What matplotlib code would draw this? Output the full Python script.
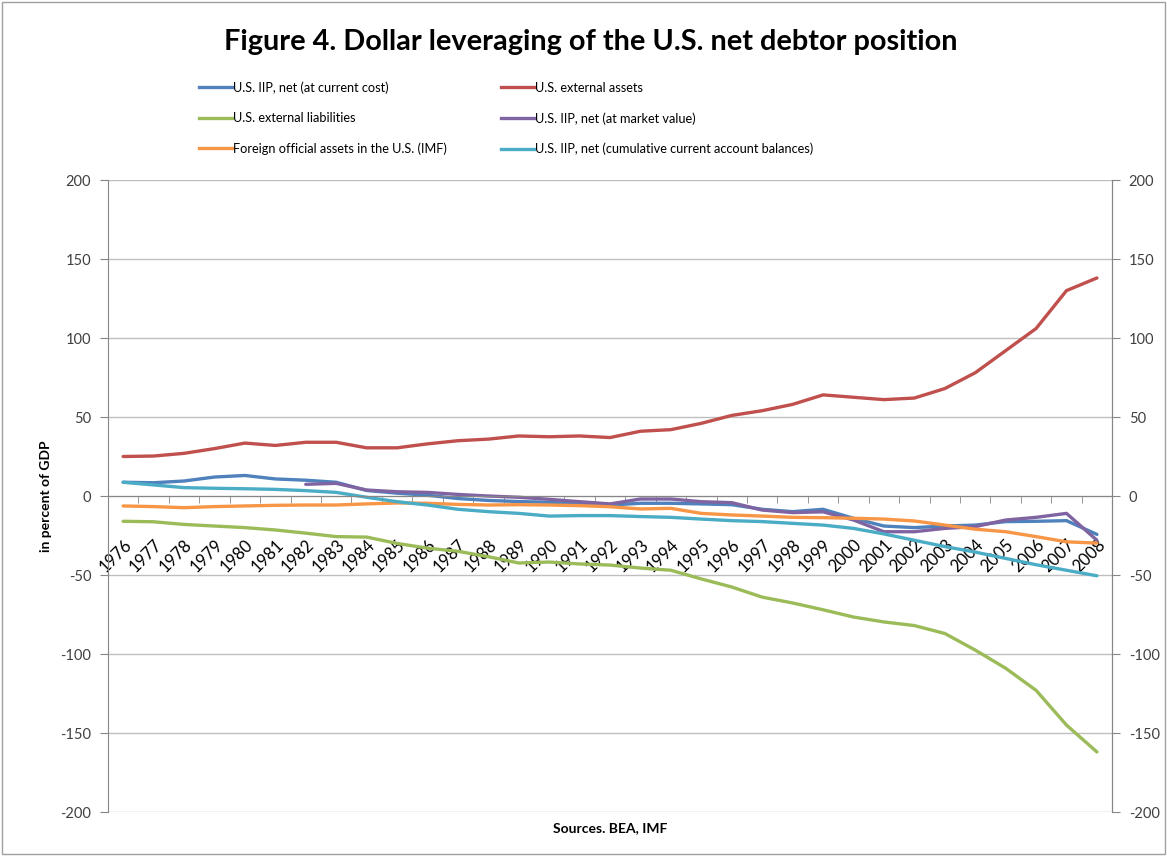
import matplotlib
matplotlib.use("Agg")
import matplotlib.pyplot as plt
from matplotlib.lines import Line2D
from matplotlib.patches import Rectangle
import numpy as np

plt.rcParams['font.family'] = ['Lato', 'DejaVu Sans']
plt.rcParams['axes.unicode_minus'] = False

years = [str(y) for y in range(1976, 2009)]

iip_current_cost = [8.7, 8.4, 9.5, 12, 13, 10.8, 10, 8.7, 3.5, 1.8, 0.5, -1.6, -2.8,
                    -3.5, -4, -5, -5.7, -4.6, -4.6, -5, -5.5, -8.4, -9.9, -8.4, -14.1,
                    -19, -20, -19, -18.4, -16.2, -16, -15.6, -24.3]
external_assets = [25, 25.3, 27, 30, 33.5, 32, 34, 34, 30.5, 30.5, 33, 35, 36,
                   38, 37.5, 38, 37, 41, 42, 46, 51, 54, 58, 64, 62.5, 61, 62, 68,
                   78, 92, 106, 130, 138]
external_liabilities = [-16, -16.3, -18, -19, -20, -21.5, -23.5, -25.7, -26, -30, -33,
                        -35, -38.4, -42.4, -41.8, -43, -43.7, -45.6, -47, -52.5, -57.6,
                        -64, -67.7, -72, -76.6, -79.7, -82, -87, -97.5, -109, -123,
                        -145, -162]
iip_market_value = [None, None, None, None, None, None, 7.4, 8, 3.8, 2.7, 2.3, 1, 0,
                    -0.8, -2.1, -3.6, -5, -1.9, -1.9, -3.6, -4.2, -8.9, -10.5, -10,
                    -15.2, -22.6, -22.6, -20.5, -19.4, -15.2, -13.5, -11, -28]
foreign_official = [-6.3, -6.7, -7.4, -6.7, -6.3, -5.9, -5.7, -5.7, -5, -4.4, -4.6,
                    -5.3, -5.7, -5.5, -5.7, -6.1, -6.8, -8.2, -7.8, -11, -12, -12.7,
                    -13.5, -13.7, -14.1, -14.6, -15.8, -18.4, -21, -22.6, -25.7, -29,
                    -29.8]
iip_cumulative_ca = [8.7, 7, 5.3, 4.9, 4.6, 4.2, 3.4, 2.3, -0.8, -3.6, -5.7, -8.4,
                     -9.9, -11, -12.7, -12.4, -12.4, -13, -13.5, -14.6, -15.6, -16.2,
                     -17.3, -18.4, -20.5, -24, -28, -32, -35.5, -39.5, -43.5, -47,
                     -50.5]

series = [
    ("U.S. IIP, net (at current cost)", iip_current_cost, "#4F81BD"),
    ("U.S. external assets", external_assets, "#C0504D"),
    ("U.S. external liabilities", external_liabilities, "#9BBB59"),
    ("U.S. IIP, net (at market value)", iip_market_value, "#8064A2"),
    ("Foreign official assets in the U.S. (IMF)", foreign_official, "#F79646"),
    ("U.S. IIP, net (cumulative current account balances)", iip_cumulative_ca, "#4BACC6"),
]

fig = plt.figure(figsize=(11.67, 8.56), dpi=100)
fig.patches.append(Rectangle((0.002, 0.002), 0.996, 0.996, transform=fig.transFigure,
                             fill=False, edgecolor="#A0A0A0", linewidth=1))
ax = fig.add_axes([0.0925, 0.0514, 0.8605, 0.7383])

x = np.arange(len(years))
for name, vals, col in series:
    v = np.array([np.nan if a is None else a for a in vals], dtype=float)
    ax.plot(x, v, color=col, linewidth=2.4, solid_capstyle='round')

ax.set_xlim(-0.5, len(years) - 0.5)
ax.set_ylim(-200, 200)
ax.set_yticks(np.arange(-200, 201, 50))
ax.yaxis.grid(True, color="#BFBFBF", linewidth=1)
ax.set_axisbelow(True)
ax.tick_params(axis='y', length=6, color="#868686", labelsize=10.5, labelcolor="#404040", pad=6)

ax.spines['top'].set_visible(False)
for s in ['left', 'right']:
    ax.spines[s].set_color("#868686")
ax.spines['bottom'].set_position(('data', 0))
ax.spines['bottom'].set_color("#868686")

ax.set_xticks(x)
ax.set_xticklabels(years, rotation=45, ha='right', va='top', rotation_mode='anchor',
                   fontsize=12, color="#000000")
ax.set_xticks(np.arange(-0.5, len(years) + 0.5, 1), minor=True)
ax.tick_params(axis='x', which='major', length=0, pad=29)
ax.tick_params(axis='x', which='minor', length=5, color="#868686", direction='out')

ax2 = ax.twinx()
ax2.set_ylim(-200, 200)
ax2.set_yticks(np.arange(-200, 201, 50))
ax2.tick_params(axis='y', length=6, color="#868686", labelsize=10.5, labelcolor="#404040", pad=6)
for s in ['top', 'bottom', 'left']:
    ax2.spines[s].set_visible(False)
ax2.spines['right'].set_color("#868686")

ax.set_ylabel("in percent of GDP", fontsize=10, fontweight='bold', labelpad=6)
fig.text(0.523, 0.033, "Sources. BEA, IMF", ha='center', va='center',
         fontsize=10, fontweight='bold')

fig.text(0.506, 0.951, "Figure 4. Dollar leveraging of the U.S. net debtor position",
         ha='center', va='center', fontsize=20.8, fontweight='bold')

order = [0, 2, 4, 1, 3, 5]
leg_handles = [Line2D([0], [0], color=series[i][2], linewidth=2.4) for i in order]
leg_labels = [series[i][0] for i in order]
fig.legend(leg_handles, leg_labels, loc='upper left', bbox_to_anchor=(0.166, 0.911),
           ncol=2, frameon=False, fontsize=9.2, handlelength=2.6, handletextpad=0.1,
           columnspacing=4.2, labelspacing=1.42, borderaxespad=0)

fig.savefig("out.png", dpi=100)
